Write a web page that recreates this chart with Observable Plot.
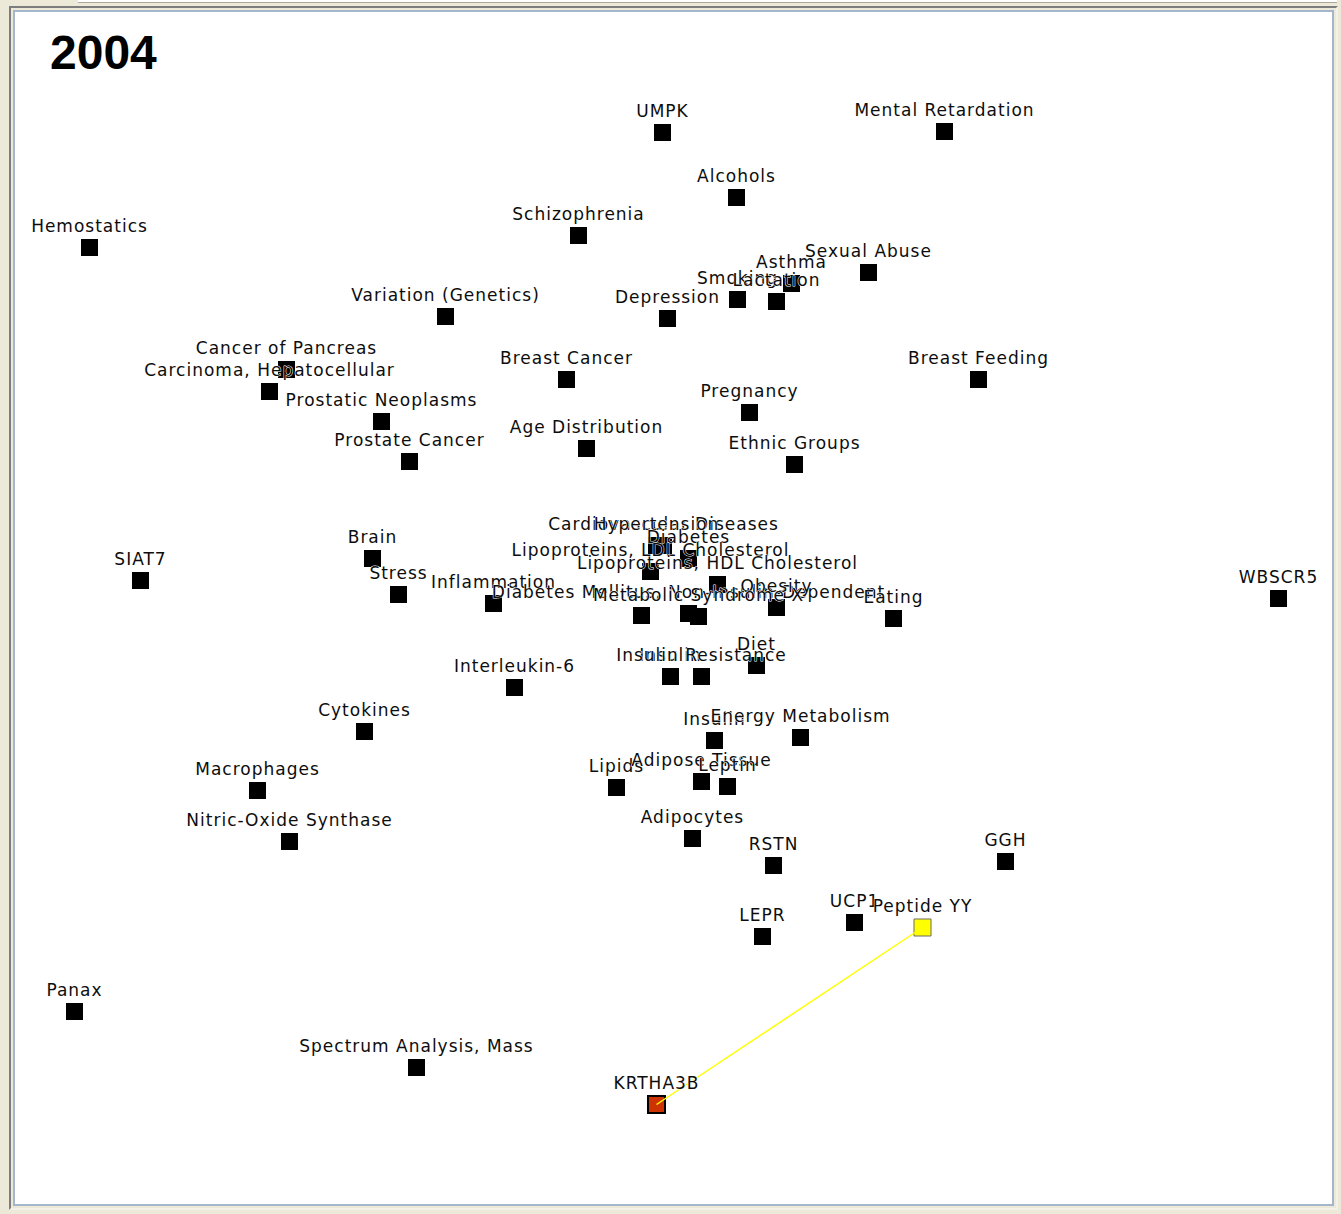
<!DOCTYPE html>
<html>
<head>
<meta charset="utf-8">
<script src="https://cdn.jsdelivr.net/npm/d3@7"></script>
<script src="https://cdn.jsdelivr.net/npm/@observablehq/plot@0.6"></script>
<style>
  html, body { margin: 0; padding: 0; width: 1341px; height: 1214px; overflow: hidden; background: #ece9d8; }
  #tab { position: absolute; left: 78px; top: 0; width: 1259px; height: 2px; background: #ffffff; border-bottom: 1px solid #a9a79b; }
  #outer { position: absolute; left: 9px; top: 6px; width: 1329px; height: 1204px; box-sizing: border-box;
           border-style: solid; border-width: 2px; border-color: #7d7d7d #f4f2e8 #f4f2e8 #7d7d7d; }
  #inner { position: absolute; left: 2px; top: 2px; right: 2px; bottom: 2px; border: 2px solid #a3b6cc; background: #ffffff; }
  #title { position: absolute; left: 50px; top: 29px; font: bold 48px "Liberation Sans", Arial, sans-serif; line-height: 48px; color: #000; z-index: 2; }
  #chart { position: absolute; left: 0; top: 0; z-index: 1; }
</style>
</head>
<body>
<div id="tab"></div>
<div id="outer"><div id="inner"></div></div>
<div id="title">2004</div>
<div id="chart"></div>
<script>
const names = [
  "UMPK", "Mental Retardation", "Alcohols", "Schizophrenia", "Hemostatics",
  "Sexual Abuse", "Asthma", "Smoking", "Lactation", "Depression",
  "Variation (Genetics)", "Cancer of Pancreas", "Carcinoma, Hepatocellular", "Breast Cancer", "Breast Feeding",
  "Prostatic Neoplasms", "Pregnancy", "Age Distribution", "Prostate Cancer", "Ethnic Groups",
  "Cardiovascular Diseases", "Hypertension", "Diabetes", "Lipoproteins, LDL Cholesterol", "Lipoproteins, HDL Cholesterol",
  "Brain", "SIAT7", "Stress", "Inflammation", "",
  "Diabetes Mellitus, Non-Insulin-Dependent", "Obesity", "Metabolic Syndrome X", "Eating", "WBSCR5",
  "Insulin", "Insulin Resistance", "Diet", "Interleukin-6", "Cytokines",
  "Insulin", "Energy Metabolism", "Macrophages", "Lipids", "Adipose Tissue",
  "Leptin", "Nitric-Oxide Synthase", "Adipocytes", "RSTN", "GGH",
  "LEPR", "UCP1", "Peptide YY", "Panax", "Spectrum Analysis, Mass",
  "KRTHA3B"
];
const xs = [
  662, 944, 736, 578, 89,
  868, 791, 737, 776, 667,
  445, 286, 269, 566, 978,
  381, 749, 586, 409, 794,
  663, 656, 688, 650, 717,
  372, 140, 398, 493, 641,
  688, 776, 698, 893, 1278,
  670, 701, 756, 514, 364,
  714, 800, 257, 616, 701,
  727, 289, 692, 773, 1005,
  762, 854, 922, 74, 416,
  656
];
const ys = [
  132, 131, 197, 235, 247,
  272, 283, 299, 301, 318,
  316, 369, 391, 379, 379,
  421, 412, 448, 461, 464,
  545, 545, 558, 571, 584,
  558, 580, 594, 603, 615,
  613, 607, 616, 618, 598,
  676, 676, 665, 687, 731,
  740, 737, 790, 787, 781,
  786, 841, 838, 865, 861,
  936, 922, 927, 1011, 1067,
  1104
];
// The highlighted relation
const linkSource = ["KRTHA3B"];
const linkTarget = ["Peptide YY"];

const nodes = names.map((name, i) => ({name, x: xs[i], y: ys[i]}));
const byName = new Map(nodes.map(d => [d.name, d]));
const links = linkSource.map((s, i) => ({a: byName.get(s), b: byName.get(linkTarget[i])}));

const fillOf = d => d.name === linkTarget[0] ? "#ffff00" : d.name === linkSource[0] ? "#cc3300" : "#000000";
const strokeOf = d => d.name === linkTarget[0] ? "#6b6b6b" : d.name === linkSource[0] ? "#000000" : "none";

const chart = Plot.plot({
  width: 1341,
  height: 1214,
  margin: 0,
  x: {domain: [0, 1341], range: [0, 1341], axis: null},
  y: {domain: [0, 1214], range: [0, 1214], axis: null},
  style: {background: "transparent", letterSpacing: "1px", overflow: "visible"},
  marks: [
    Plot.dot(nodes, {
      x: "x", y: "y", symbol: "square", r: 9.6,
      fill: fillOf, stroke: strokeOf,
      strokeWidth: d => d.name === linkSource[0] ? 2 : 1
    }),
    Plot.link(links, {
      x1: d => d.a.x, y1: d => d.a.y, x2: d => d.b.x, y2: d => d.b.y,
      stroke: "#ffff00", strokeWidth: 1.5
    }),
    Plot.text(nodes, {
      x: "x", y: "y", text: "name",
      textAnchor: "middle", lineAnchor: "bottom", dy: -16,
      fontFamily: "DejaVu Sans", fontSize: 17,
      fill: "#0d0d0d", stroke: "#ffffff", strokeWidth: 1
    })
  ]
});
document.getElementById("chart").appendChild(chart);
</script>
</body>
</html>
